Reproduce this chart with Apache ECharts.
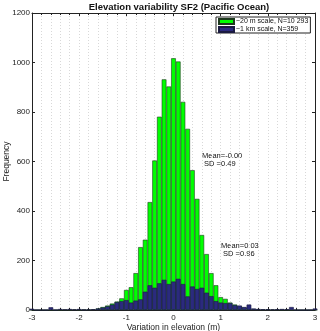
<!DOCTYPE html>
<html>
<head>
<meta charset="utf-8">
<script src="https://cdn.jsdelivr.net/npm/echarts@6/dist/echarts.min.js"></script>
<style>
  html, body { margin: 0; padding: 0; background: #fff; }
  #chart { width: 320px; height: 331px; }
</style>
</head>
<body>
<div id="chart"></div>
<script>
// bin centres (m)
const bins = [
  -3.0, -2.9, -2.8, -2.7, -2.6, -2.5, -2.4, -2.3, -2.2, -2.1,
  -2.0, -1.9, -1.8, -1.7, -1.6, -1.5, -1.4, -1.3, -1.2, -1.1,
  -1.0, -0.9, -0.8, -0.7, -0.6, -0.5, -0.4, -0.3, -0.2, -0.1,
  0.0, 0.1, 0.2, 0.3, 0.4, 0.5, 0.6, 0.7, 0.8, 0.9,
  1.0, 1.1, 1.2, 1.3, 1.4, 1.5, 1.6, 1.7, 1.8, 1.9,
  2.0, 2.1, 2.2, 2.3, 2.4, 2.5, 2.6, 2.7, 2.8, 2.9, 3.0
]
// ~20 m scale counts
const fine = [
  0, 0, 0, 0, 0, 0, 0, 1, 1, 2,
  1, 2, 2, 3, 6, 12, 18, 26, 34, 47,
  81, 92, 149, 254, 284, 436, 604, 781, 932, 903,
  1017, 1004, 841, 732, 565, 449, 303, 226, 149, 100,
  52, 45, 30, 22, 15, 10, 7, 4, 3, 2,
  3, 2, 2, 1, 1, 0, 0, 0, 0, 0, 0
]
// ~1 km scale counts
const coarse = [
  5, 0, 0, 0, 11, 0, 4, 2, 4, 2,
  4, 1, 2, 3, 6, 10, 15, 22, 32, 36,
  40, 30, 38, 43, 74, 100, 90, 108, 122, 105,
  115, 126, 105, 55, 95, 85, 90, 70, 56, 36,
  30, 28, 28, 20, 18, 12, 22, 6, 4, 3,
  3, 2, 3, 4, 3, 12, 0, 0, 0, 0, 6
]
const xTicks = [-3, -2, -1, 0, 1, 2, 3]
const yTicks = [0, 200, 400, 600, 800, 1000, 1200]

const font = 'Liberation Sans, Arial, sans-serif'
const chart = echarts.init(document.getElementById('chart'))

const axisLine = { show: true, onZero: false, lineStyle: { color: '#222', width: 1 } }
const dotted = { show: true, lineStyle: { color: '#d8d8d8', type: [1, 2], width: 1 } }
const tick = { show: true, inside: true, length: 3, lineStyle: { color: '#222' } }
const minor = { show: true, splitNumber: 5, length: 2, lineStyle: { color: '#222' } }

chart.setOption({
  animation: false,
  title: {
    text: 'Elevation variability SF2 (Pacific Ocean)',
    left: 179,
    textAlign: 'center',
    top: 2,
    padding: 0,
    textStyle: { fontFamily: font, fontSize: 9.5, fontWeight: 'bold', color: '#111' }
  },
  legend: {
    orient: 'vertical',
    left: 216,
    top: 17,
    padding: [1, 2, 0, 2],
    itemGap: 1,
    itemWidth: 15,
    itemHeight: 5,
    backgroundColor: '#fff',
    borderColor: '#222',
    borderWidth: 1,
    borderRadius: 0,
    textStyle: { fontFamily: font, fontSize: 7, color: '#111', padding: [0, 0, 0, -3] },
    data: [
      { name: '~20 m scale, N=10 293', icon: 'rect' },
      { name: '~1 km scale, N=359', icon: 'rect' }
    ]
  },
  grid: { left: 32, right: 5, top: 13, bottom: 21, outerBoundsMode: 'none' },
  xAxis: [
    {
      type: 'value',
      min: -3,
      max: 3,
      interval: 1,
      name: 'Variation in elevation (m)',
      nameLocation: 'middle',
      nameGap: 13,
      nameMoveOverlap: false,
      nameTextStyle: { fontFamily: font, fontSize: 8.5, color: '#222' },
      axisLine: axisLine,
      axisTick: tick,
      minorTick: minor,
      splitLine: dotted,
      minorSplitLine: dotted,
      axisLabel: {
        fontFamily: font, fontSize: 8, color: '#222', margin: 4,
        formatter: v => (xTicks.includes(v) ? String(v) : '')
      }
    },
    {
      type: 'value',
      position: 'top',
      min: -3,
      max: 3,
      interval: 1,
      axisLine: axisLine,
      axisTick: tick,
      minorTick: minor,
      axisLabel: { show: false },
      splitLine: { show: false }
    }
  ],
  yAxis: [
    {
      type: 'value',
      min: 0,
      max: 1200,
      interval: 200,
      name: 'Frequency',
      nameLocation: 'middle',
      nameGap: 21,
      nameMoveOverlap: false,
      nameTextStyle: { fontFamily: font, fontSize: 8.5, color: '#222' },
      axisLine: axisLine,
      axisTick: tick,
      splitLine: { show: false },
      axisLabel: {
        fontFamily: font, fontSize: 8, color: '#222', margin: 2,
        formatter: v => (yTicks.includes(v) ? String(v) : '')
      }
    },
    {
      type: 'value',
      position: 'right',
      min: 0,
      max: 1200,
      interval: 200,
      axisLine: axisLine,
      axisTick: tick,
      splitLine: { show: false },
      axisLabel: { show: false }
    }
  ],
  series: [
    {
      name: '~20 m scale, N=10 293',
      type: 'bar',
      barWidth: 4.7,
      barGap: '-100%',
      data: bins.map((b, i) => [b, fine[i]]),
      itemStyle: { color: '#00ff00', borderColor: '#1e3a1e', borderWidth: 0.6 }
    },
    {
      name: '~1 km scale, N=359',
      type: 'bar',
      barWidth: 4.7,
      barGap: '-100%',
      data: bins.map((b, i) => [b, coarse[i]]),
      itemStyle: { color: '#2b2a7e', borderColor: '#1a1a40', borderWidth: 0.6 }
    }
  ],
  graphic: [
    { type: 'text', left: 202, top: 152, style: { text: 'Mean=-0.00\n SD =0.49', font: '7.5px ' + font, fill: '#111', lineHeight: 8 } },
    { type: 'text', left: 221, top: 242, style: { text: 'Mean=0.03\n SD =0.96', font: '7.5px ' + font, fill: '#111', lineHeight: 8 } }
  ]
})
</script>
</body>
</html>
